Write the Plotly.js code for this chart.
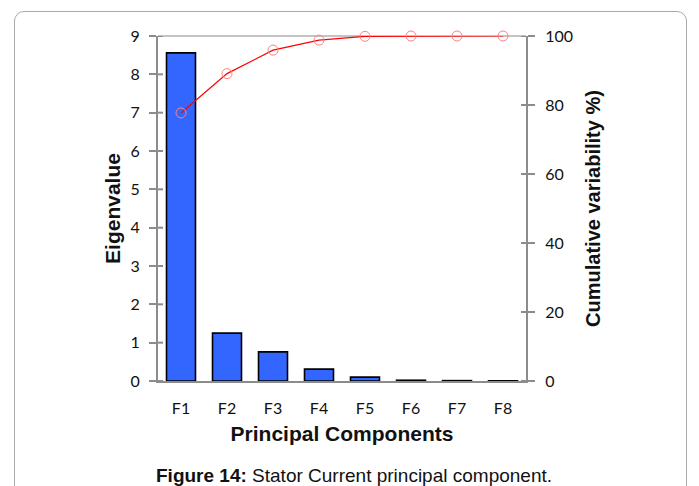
<!DOCTYPE html>
<html><head><meta charset="utf-8">
<script src="https://cdn.plot.ly/plotly-3.0.1.min.js"></script>
<style>
html,body{margin:0;padding:0;background:#fff;}
#chart{width:699px;height:486px;position:absolute;left:0;top:0;}
#frame{position:absolute;left:14px;top:11px;width:671px;height:500px;border:1px solid #aaa;border-radius:10px;pointer-events:none;}
</style></head>
<body>
<div id="chart"></div>
<div id="frame"></div>
<script>
const categories = ["F1","F2","F3","F4","F5","F6","F7","F8"];
const eigenvalues = [8.56, 1.25, 0.76, 0.31, 0.10, 0.02, 0.01, 0.005];
const cumulative = [77.7, 89.1, 95.9, 98.8, 99.9, 100, 100, 100];
const leftTicks = [0,1,2,3,4,5,6,7,8,9];
const rightTicks = [0,20,40,60,80,100];

const tickFont = {family: "Lato, 'Open Sans', sans-serif", size: 16, color: "#111"};
const titleFont = {family: "'Liberation Sans', Arial, sans-serif", size: 21, color: "#111", weight: 700};
const axGrey = "#8c8c8c";
const plotW = 368;
const inTick = 5 / plotW;

const data = [
  {type: "bar", x: categories, y: eigenvalues, width: 0.63,
   marker: {color: "#3366FF", line: {color: "#000", width: 1.6}}, yaxis: "y", hoverinfo: "skip"},
  {type: "scatter", mode: "lines+markers", x: categories, y: cumulative, yaxis: "y2",
   cliponaxis: false,
   line: {color: "#FF0000", width: 1.2},
   marker: {symbol: "circle-open", size: 10, color: "#FF8080", line: {width: 1}}, hoverinfo: "skip"}
];

const shapes = [
  {type: "line", xref: "paper", yref: "paper", x0: 0, x1: 1, y0: 1, y1: 1, layer: "below",
   line: {color: "#c4c4c4", width: 2}}
];
leftTicks.forEach(v => shapes.push({type: "line", xref: "paper", yref: "y", x0: 0, x1: inTick, y0: v, y1: v,
  line: {color: axGrey, width: 2}}));
rightTicks.forEach(v => shapes.push({type: "line", xref: "paper", yref: "y2", x0: 1 - inTick, x1: 1, y0: v, y1: v,
  line: {color: axGrey, width: 2}}));

const layout = {
  width: 699, height: 486,
  margin: {l: 158, r: 173, t: 36, b: 105},
  paper_bgcolor: "#fff", plot_bgcolor: "#fff",
  showlegend: false,
  font: tickFont,
  xaxis: {range: [-0.5, 7.5], showline: true, linecolor: axGrey, linewidth: 2,
    ticks: "", tickfont: tickFont, showgrid: false, zeroline: false, ticklabelstandoff: 12,
    title: {text: "Principal Components", font: titleFont, standoff: 10}},
  yaxis: {range: [0, 9], tickvals: leftTicks, showline: true, linecolor: axGrey, linewidth: 2,
    ticks: "outside", ticklen: 7, tickwidth: 2, tickcolor: axGrey, tickfont: tickFont,
    ticklabelstandoff: 6, showgrid: false, zeroline: false,
    title: {text: "Eigenvalue", font: titleFont, standoff: 4}},
  yaxis2: {range: [0, 100], tickvals: rightTicks, overlaying: "y", side: "right",
    showline: true, linecolor: axGrey, linewidth: 2,
    ticks: "outside", ticklen: 7, tickwidth: 2, tickcolor: axGrey, tickfont: tickFont,
    ticklabelstandoff: 7, showgrid: false, zeroline: false,
    title: {text: "Cumulative variability %)", font: {family: titleFont.family, size: 20, color: "#111", weight: 700}, standoff: 14}},
  shapes: shapes,
  annotations: [
    {xref: "paper", yref: "paper", x: (354 - 158) / 368, y: (381 - 476) / 345, xanchor: "center", yanchor: "middle",
     showarrow: false, text: "<b>Figure 14:</b> Stator Current principal component.",
     font: {family: "'Liberation Sans', Arial, sans-serif", size: 19, color: "#111"}}
  ]
};

Plotly.newPlot("chart", data, layout, {displayModeBar: false, staticPlot: true});
</script>
</body></html>
